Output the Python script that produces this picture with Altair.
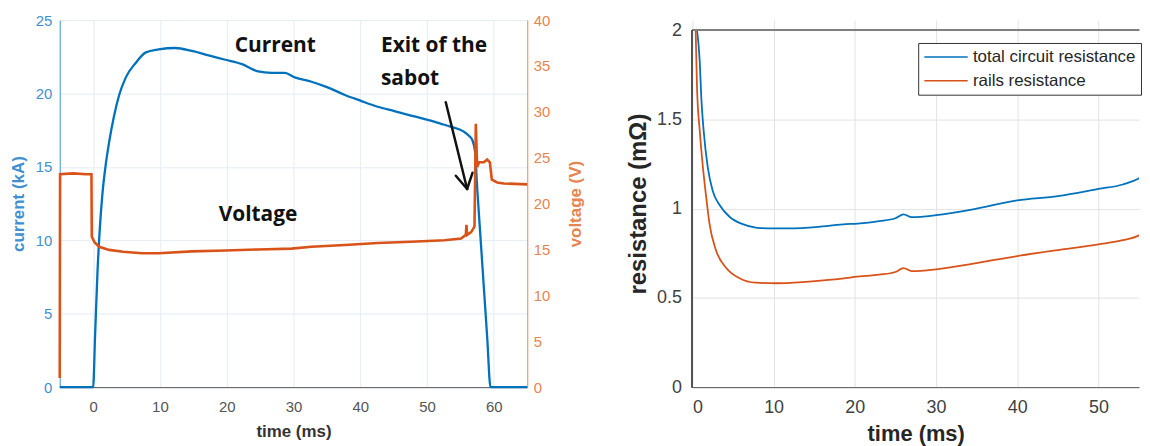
import altair as alt
import pandas as pd

# ---------------- left panel data ----------------
cur_t = [-5, -2.5, -0.05, 0.0, 0.3, 0.65, 1.0, 1.4, 1.9, 2.4, 3.1, 3.9, 4.9, 6.4, 7.9, 9.8,
         12.3, 14.8, 17.3, 19.8, 22.3, 24.7, 26.7, 28.7, 30.2, 32.7, 35.2, 37.7, 40.1,
         42.6, 45.1, 47.6, 50.1, 52.0, 53.5, 55.5, 56.3, 56.8, 57.2, 57.5, 58.0, 58.5,
         59.0, 59.5, 62.0, 65.0]
cur_kA = [0.0, 0.0, 0.0, 0.0, 3.6, 7.8, 10.8, 13.2, 15.2, 16.7, 18.4, 19.9, 21.1, 22.1, 22.8, 23.0,
          23.1, 22.9, 22.6, 22.3, 22.0, 21.5, 21.4, 21.4, 21.1, 20.8, 20.4, 19.9, 19.5,
          19.1, 18.8, 18.5, 18.2, 17.95, 17.75, 17.4, 17.1, 16.8, 16.0, 13.6, 10.2, 6.8,
          3.4, 0.0, 0.0, 0.0]

volt_t = [-5.0, -4.95, -3.0, -1.0, -0.25, -0.2, 0.2, 0.9, 2.4, 4.5, 7.3, 9.8, 14.8, 19.8,
          24.7, 29.7, 32.7, 37.7, 42.6, 47.6, 52.6, 55.1, 55.8, 55.9, 56.0, 56.6, 57.1,
          57.3, 57.5, 57.8, 58.5, 59.0, 59.4, 59.7, 60.5, 61.5, 65.0]
volt_V = [1.0, 23.2, 23.3, 23.2, 23.2, 16.4, 15.8, 15.3, 14.96, 14.75, 14.6, 14.6, 14.8, 14.9,
          15.0, 15.1, 15.3, 15.5, 15.7, 15.85, 16.0, 16.2, 16.6, 17.7, 16.6, 16.9, 17.5,
          28.7, 24.0, 24.5, 24.5, 24.8, 24.5, 22.6, 22.3, 22.2, 22.1]

note_text = ["Current", "Exit of the", "sabot", "Voltage"]
note_t = [21.2, 43.1, 43.1, 18.8]
note_kA = [23.2, 23.2, 21.0, 11.7]

arrow_t = [52.8, 54.3, 56.8]
arrow_kA = [19.4, 14.4, 14.6]
arrow_t2 = [56.0, 56.0, 56.0]
arrow_kA2 = [13.5, 13.5, 13.5]

# ---------------- right panel data ----------------
tot_t = [0.57, 0.9, 1.1, 1.38, 1.9, 2.5, 3.35, 4.6, 6.2, 7.8, 9.9, 11.9, 16.0, 18.9, 20, 23,
         25, 26, 27, 30, 35, 40, 45, 50, 53, 55, 56]
tot_R = [2.0, 1.83, 1.62, 1.44, 1.23, 1.10, 1.02, 0.953, 0.913, 0.894, 0.889, 0.889, 0.90,
         0.913, 0.915, 0.93, 0.946, 0.968, 0.952, 0.963, 1.0, 1.046, 1.07, 1.11, 1.135, 1.17, 1.2]
rail_t = [0.4, 0.57, 0.9, 1.3, 1.7, 2.1, 2.9, 4.2, 5.8, 7.8, 10.3, 14, 18.9, 20, 23, 25, 26,
          27, 30, 35, 40, 45, 50, 53, 55, 56]
rail_R = [2.0, 1.68, 1.44, 1.23, 1.065, 0.917, 0.768, 0.666, 0.61, 0.585, 0.582, 0.59, 0.61,
          0.617, 0.63, 0.645, 0.667, 0.65, 0.66, 0.695, 0.734, 0.768, 0.80, 0.823, 0.85, 0.88]
series_names = ["total circuit resistance", "rails resistance"]

BLUE = "#0072BD"
ORANGE = "#D95319"
BLUE_AX = "#3F90D3"
ORANGE_AX = "#E8844F"
AXF = "Liberation Sans"

cur_df = pd.DataFrame({"t": cur_t, "I": cur_kA})
volt_df = pd.DataFrame({"t": volt_t, "V": volt_V})
note_df = pd.DataFrame({"label": note_text, "t": note_t, "I": note_kA})
arrow_df = pd.DataFrame({"t": arrow_t, "I": arrow_kA, "t2": arrow_t2, "I2": arrow_kA2})

xL = alt.X("t:Q", scale=alt.Scale(domain=[-5, 65], nice=False),
           axis=alt.Axis(values=list(range(0, 61, 10)), title="time (ms)",
                         titleFont=AXF, titleFontSize=17, titleFontWeight="bold", titleColor="#333333",
                         labelFont=AXF, labelFontSize=15, labelColor="#555555",
                         domainColor="#555555", ticks=False, tickSize=0, labelPadding=12,
                         titlePadding=10, gridColor="#E4ECF4"))

yI_scale = alt.Scale(domain=[0, 25], nice=False)

cur_line = alt.Chart(cur_df).mark_line(color=BLUE, strokeWidth=2.3, interpolate="monotone").encode(
    x=xL,
    y=alt.Y("I:Q", scale=yI_scale,
            axis=alt.Axis(values=[0, 5, 10, 15, 20, 25], title="current (kA)",
                          titleFont=AXF, titleFontSize=17, titleFontWeight="bold", titleColor=BLUE_AX,
                          labelFont=AXF, labelFontSize=15, labelColor=BLUE_AX,
                          domainColor=BLUE_AX, ticks=False, tickSize=0, labelPadding=8,
                          titlePadding=8, gridColor="#E4ECF4")),
)

notes = alt.Chart(note_df).mark_text(font="Open Sans", fontWeight="bold", fontSize=21, align="left",
                                     baseline="middle", color="#111111").encode(
    x=alt.X("t:Q"), y=alt.Y("I:Q"), text="label:N")

arrows = alt.Chart(arrow_df).mark_rule(color="#111111", strokeWidth=2.5, strokeCap="round").encode(
    x=alt.X("t:Q"), y=alt.Y("I:Q"), x2="t2:Q", y2="I2:Q")

cur_group = alt.layer(cur_line, notes, arrows)

volt_line = alt.Chart(volt_df).mark_line(color=ORANGE, strokeWidth=2.6).encode(
    x=alt.X("t:Q"),
    y=alt.Y("V:Q", scale=alt.Scale(domain=[0, 40], nice=False),
            axis=alt.Axis(orient="right", values=list(range(0, 41, 5)), title="voltage (V)",
                          titleFont=AXF, titleFontSize=17, titleFontWeight="bold", titleColor=ORANGE_AX,
                          titleAngle=270,
                          labelFont=AXF, labelFontSize=15, labelColor=ORANGE_AX,
                          domainColor=ORANGE_AX, ticks=False, tickSize=0, labelPadding=6,
                          titlePadding=35, grid=False)),
)

left = alt.layer(cur_group, volt_line).resolve_scale(y="independent").properties(width=470, height=369)

# ---------------- right panel ----------------
res_df = pd.concat([
    pd.DataFrame({"t": tot_t, "R": tot_R, "series": series_names[0]}),
    pd.DataFrame({"t": rail_t, "R": rail_R, "series": series_names[1]}),
])

RTOP = 2 * 369 / 359
xR = alt.X("t:Q", scale=alt.Scale(domain=[0, 55], nice=False),
           axis=alt.Axis(values=list(range(0, 51, 10)), title="time (ms)",
                         titleFont=AXF, titleFontSize=22, titleFontWeight="bold", titleColor="#262626",
                         labelFont=AXF, labelFontSize=18, labelColor="#404040",
                         domainColor="#555555", ticks=False, tickSize=0, labelPadding=11,
                         titlePadding=8, gridColor="#E3E3E3"))
yR = alt.Y("R:Q", scale=alt.Scale(domain=[0, RTOP], nice=False),
           axis=alt.Axis(values=[0, 0.5, 1, 1.5, 2], format=".2~f", title="resistance (m\u03a9)",
                         titleFont=AXF, titleFontSize=24, titleFontWeight="bold", titleColor="#262626",
                         labelFont=AXF, labelFontSize=18, labelColor="#404040",
                         domain=False, ticks=False, tickSize=0, labelPadding=11,
                         titlePadding=6, gridColor="#E3E3E3"))

res_lines = alt.Chart(res_df).mark_line(strokeWidth=1.8, interpolate="monotone", clip=True).encode(
    x=xR, y=yR,
    color=alt.Color("series:N", scale=alt.Scale(domain=series_names, range=[BLUE, ORANGE]),
                    legend=alt.Legend(title=None, orient="none", legendX=863, legendY=23,
                                      fillColor="white", strokeColor="#333333", padding=5,
                                      symbolType="stroke", symbolSize=1900, symbolStrokeWidth=1.5,
                                      labelFont=AXF, labelFontSize=17, labelColor="#262626",
                                      labelLimit=0, rowPadding=6, clipHeight=18, labelOffset=4)),
    detail="series:N",
)

top_border = alt.Chart(res_df).mark_rule(color="#808080", strokeWidth=1.0).encode(
    y=alt.datum(2))
left_border = alt.Chart(res_df).mark_rule(color="#555555", strokeWidth=1.0).encode(
    x=alt.datum(0), y=alt.datum(0), y2=alt.datum(2))

right = alt.layer(res_lines, top_border, left_border).properties(width=449, height=369)

chart = alt.hconcat(left, right, spacing=42).properties(
    padding={"left": 1, "top": 4, "right": 0, "bottom": 0}
).configure_view(stroke=None)

chart.save("out.html", embed_options={"renderer": "svg", "actions": False})
